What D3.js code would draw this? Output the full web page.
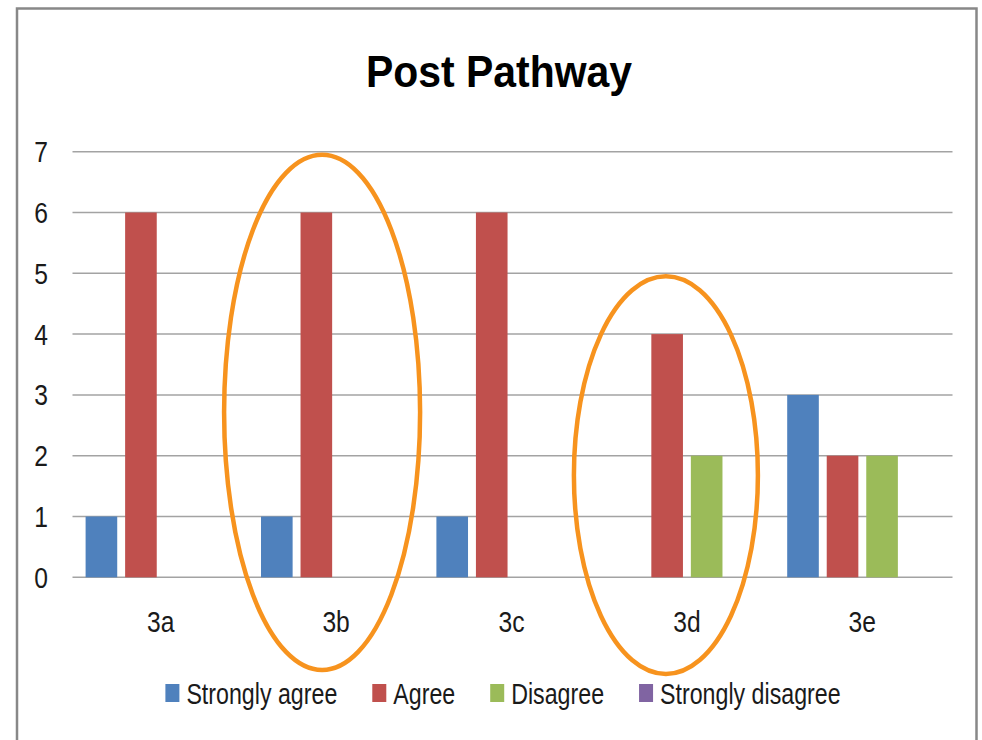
<!DOCTYPE html>
<html>
<head>
<meta charset="utf-8">
<script src="https://cdn.jsdelivr.net/npm/d3@7"></script>
<style>
  body { margin: 0; background: #fff; }
  text { font-family: "Liberation Sans", Arial, sans-serif; fill: #1a1a1a; }
</style>
</head>
<body>
<svg id="chart" width="982" height="740"></svg>
<script>
// data
var categories = ["3a", "3b", "3c", "3d", "3e"];
var seriesNames = ["Strongly agree", "Agree", "Disagree", "Strongly disagree"];
var seriesColors = ["#4f81bd", "#c0504d", "#9bbb59", "#8064a2"];
var stronglyAgree = [1, 1, 1, 0, 3];
var agree = [6, 6, 6, 4, 2];
var disagree = [0, 0, 0, 2, 2];
var stronglyDisagree = [0, 0, 0, 0, 0];
var yTicks = [0, 1, 2, 3, 4, 5, 6, 7];
var highlighted = ["3b", "3d"];

var values = [stronglyAgree, agree, disagree, stronglyDisagree];

var svg = d3.select("#chart");

// squeeze text horizontally, the original font is a narrow one
function narrow(sel, k) {
  sel.each(function(){
    var w = this.getComputedTextLength();
    d3.select(this)
      .attr("textLength", w * (k || 0.82))
      .attr("lengthAdjust", "spacingAndGlyphs");
  });
}

// outer frame
svg.append("path")
  .attr("d", "M17,760 L17,8.5 L976.5,8.5 L976.5,760")
  .attr("fill", "none")
  .attr("stroke", "#888")
  .attr("stroke-width", 2.5);

svg.append("text")
  .attr("x", 499)
  .attr("y", 87)
  .attr("text-anchor", "middle")
  .attr("font-size", 45)
  .attr("font-weight", "bold")
  .attr("textLength", 266)
  .attr("lengthAdjust", "spacingAndGlyphs")
  .style("fill", "#000")
  .text("Post Pathway");

var x = d3.scaleBand()
  .domain(categories)
  .range([73, 950]);

var xSub = d3.scaleBand()
  .domain(seriesNames)
  .range([12.6, x.bandwidth() - 12.6])
  .paddingInner(0.2);

var y = d3.scaleLinear()
  .domain([0, 7])
  .range([577.3, 151.7]);

// gridlines
svg.append("g")
  .selectAll("line")
  .data(yTicks)
  .enter().append("line")
  .attr("x1", 72.5)
  .attr("x2", 952.5)
  .attr("y1", function(d){ return y(d); })
  .attr("y2", function(d){ return y(d); })
  .attr("stroke", "#a3a3a3")
  .attr("stroke-width", 1.5);

// y labels
svg.append("g")
  .selectAll("text")
  .data(yTicks)
  .enter().append("text")
  .attr("x", 48)
  .attr("y", function(d){ return y(d); })
  .attr("dy", "0.36em")
  .attr("text-anchor", "end")
  .attr("font-size", 29)
  .text(function(d){ return d; })
  .call(narrow, 0.85);

// bars
var rows = [];
categories.forEach(function(c, i){
  seriesNames.forEach(function(s, j){
    rows.push({cat: c, series: s, color: seriesColors[j], value: values[j][i]});
  });
});

svg.append("g")
  .selectAll("rect")
  .data(rows.filter(function(d){ return d.value > 0; }))
  .enter().append("rect")
  .attr("x", function(d){ return x(d.cat) + xSub(d.series); })
  .attr("width", xSub.bandwidth())
  .attr("y", function(d){ return y(d.value); })
  .attr("height", function(d){ return y(0) - y(d.value); })
  .attr("fill", function(d){ return d.color; });

// category labels
svg.append("g")
  .selectAll("text")
  .data(categories)
  .enter().append("text")
  .attr("x", function(d){ return x(d) + x.bandwidth() / 2; })
  .attr("y", 632)
  .attr("text-anchor", "middle")
  .attr("font-size", 29)
  .text(function(d){ return d; })
  .call(narrow, 0.85);

// orange ovals around highlighted groups
var ovals = [
  {cat: "3b", dx: -14, top: 6.95, bottom: 670, rx: 98},
  {cat: "3d", dx: -21, top: 4.95, bottom: 674, rx: 92}
];
svg.append("g")
  .selectAll("ellipse")
  .data(ovals.filter(function(o){ return highlighted.indexOf(o.cat) >= 0; }))
  .enter().append("ellipse")
  .attr("cx", function(o){ return x(o.cat) + x.bandwidth() / 2 + o.dx; })
  .attr("cy", function(o){ return (y(o.top) + o.bottom) / 2; })
  .attr("rx", function(o){ return o.rx; })
  .attr("ry", function(o){ return (o.bottom - y(o.top)) / 2; })
  .attr("fill", "none")
  .attr("stroke", "#f7931e")
  .attr("stroke-width", 4.5);

// legend
var legend = svg.append("g");
var items = legend.selectAll("g")
  .data(seriesNames)
  .enter().append("g");
items.append("rect")
  .attr("y", 684)
  .attr("width", 14)
  .attr("height", 18)
  .attr("fill", function(d, i){ return seriesColors[i]; });
items.append("text")
  .attr("x", 21)
  .attr("y", 704)
  .attr("font-size", 29)
  .text(function(d){ return d; })
  .call(narrow, 0.8);

var offset = 0;
var widths = [];
items.each(function(){
  widths.push(this.getBBox().width);
});
var total = d3.sum(widths) + 35 * (widths.length - 1);
offset = 503 - total / 2;
items.attr("transform", function(d, i){
  var t = "translate(" + offset + ",0)";
  offset += widths[i] + 35;
  return t;
});
</script>
</body>
</html>
